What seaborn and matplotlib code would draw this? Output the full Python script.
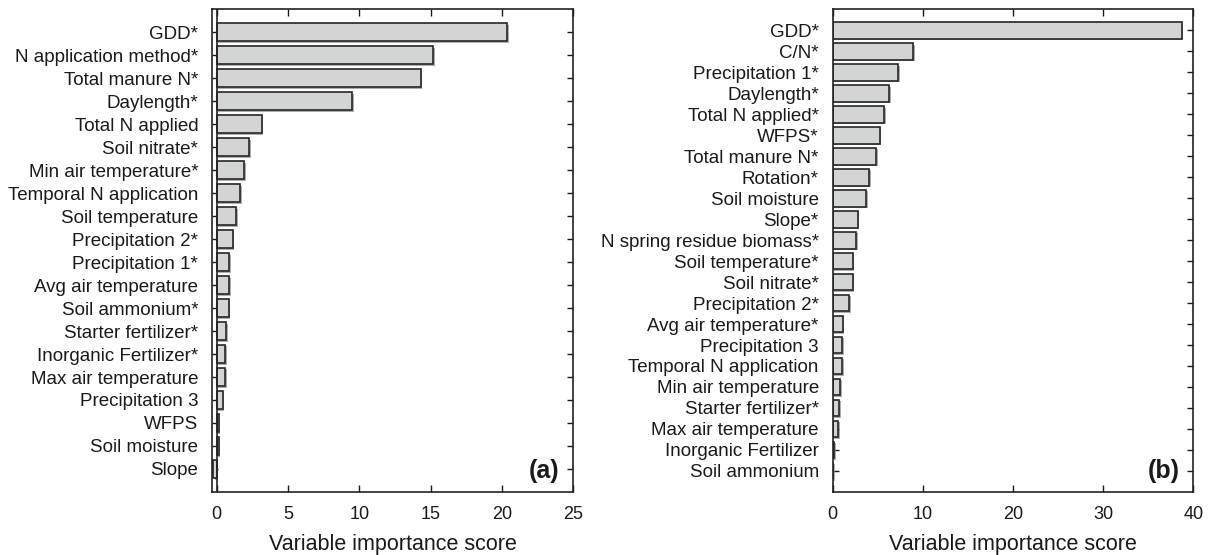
import matplotlib
matplotlib.use("Agg")
import matplotlib.pyplot as plt
import matplotlib.patheffects as pe
import seaborn as sns
import pandas as pd

# Panel (a)
vars_a = ["GDD*", "N application method*", "Total manure N*", "Daylength*",
          "Total N applied", "Soil nitrate*", "Min air temperature*",
          "Temporal N application", "Soil temperature", "Precipitation 2*",
          "Precipitation 1*", "Avg air temperature", "Soil ammonium*",
          "Starter fertilizer*", "Inorganic Fertilizer*", "Max air temperature",
          "Precipitation 3", "WFPS", "Soil moisture", "Slope"]
scores_a = [20.4, 15.2, 14.3, 9.5, 3.16, 2.29, 1.94, 1.66, 1.38, 1.12,
            0.89, 0.89, 0.84, 0.68, 0.61, 0.60, 0.42, 0.14, 0.13, -0.25]

# Panel (b)
vars_b = ["GDD*", "C/N*", "Precipitation 1*", "Daylength*", "Total N applied*",
          "WFPS*", "Total manure N*", "Rotation*", "Soil moisture", "Slope*",
          "N spring residue biomass*", "Soil temperature*", "Soil nitrate*",
          "Precipitation 2*", "Avg air temperature*", "Precipitation 3",
          "Temporal N application", "Min air temperature", "Starter fertilizer*",
          "Max air temperature", "Inorganic Fertilizer", "Soil ammonium"]
scores_b = [38.7, 8.9, 7.3, 6.24, 5.68, 5.2, 4.8, 4.06, 3.72, 2.77, 2.6,
            2.21, 2.21, 1.84, 1.1, 1.03, 1.03, 0.85, 0.70, 0.62, 0.2, 0.06]

xticks_a = [0, 5, 10, 15, 20, 25]
xticks_b = [0, 10, 20, 30, 40]
xlabel = "Variable importance score"

sns.set_style("ticks")
plt.rcParams["font.family"] = ["Liberation Sans", "DejaVu Sans"]
plt.rcParams["text.color"] = "#1a1a1a"
plt.rcParams["xtick.color"] = "#1a1a1a"
plt.rcParams["ytick.color"] = "#1a1a1a"
plt.rcParams["axes.labelcolor"] = "#1a1a1a"

fig = plt.figure(figsize=(12.11, 5.55), dpi=100)
ax_a = fig.add_axes([0.1751, 0.1141, 0.4732 - 0.1751, 0.9832 - 0.1141])
ax_b = fig.add_axes([0.6876, 0.1141, 0.9854 - 0.6876, 0.9832 - 0.1141])

face = "#d3d4d4"
edge = "#262626"


def panel(ax, names, vals, xlim, xticks, tag):
    df = pd.DataFrame({"var": names, "score": vals})
    sns.barplot(data=df, x="score", y="var", orient="h", ax=ax,
                color=face, edgecolor=edge, linewidth=1.2, width=0.8,
                saturation=1)
    for p in ax.patches:
        p.set_facecolor(face)
        p.set_path_effects([pe.SimplePatchShadow(offset=(1.2, -1.2),
                                                 shadow_rgbFace="#8a8a8a",
                                                 alpha=0.7),
                            pe.Normal()])
    ax.set_xlim(*xlim)
    ax.set_ylim(len(names) - 0.01, -1.0)
    ax.set_xticks(xticks)
    ax.set_xticklabels([str(t) for t in xticks], fontsize=13)
    ax.tick_params(axis="y", labelsize=13.5, direction="in", length=4.5,
                   width=1, left=True, right=True, pad=10)
    ax.tick_params(axis="x", direction="in", length=5, width=1,
                   top=True, bottom=True, pad=10)
    ax.set_xlabel(xlabel, fontsize=15.5, labelpad=8)
    ax.set_ylabel("")
    for s in ax.spines.values():
        s.set_visible(True)
        s.set_linewidth(1.2)
        s.set_color("#222222")
    ax.text(0.963, 0.018, tag, transform=ax.transAxes, ha="right", va="bottom",
            fontsize=18, fontweight="bold")


panel(ax_a, vars_a, scores_a, (-0.33, 25), xticks_a, "(a)")
ax_a.axvline(0, color="#222222", linewidth=1.2, zorder=3)
panel(ax_b, vars_b, scores_b, (0, 40), xticks_b, "(b)")

fig.savefig("out.png", dpi=100)
